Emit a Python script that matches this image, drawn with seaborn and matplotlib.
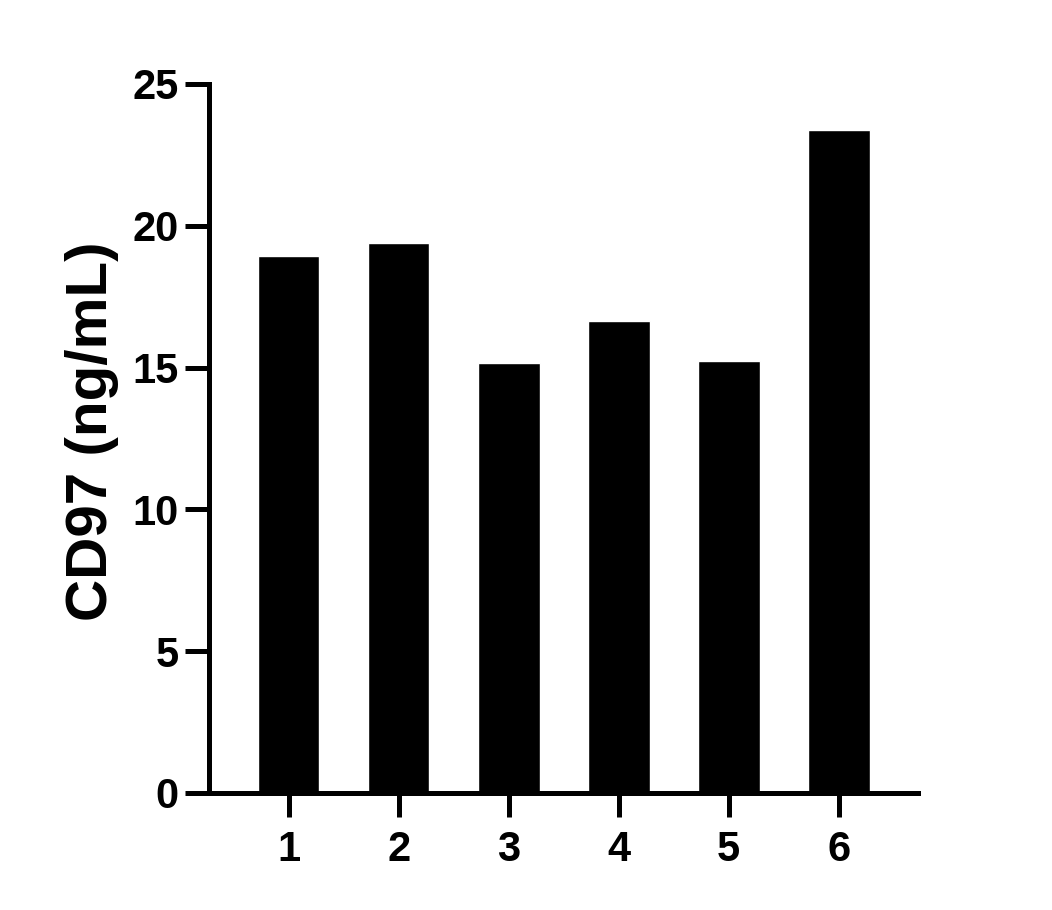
import matplotlib
matplotlib.use("Agg")
import matplotlib.pyplot as plt
import seaborn as sns
import pandas as pd

# data
samples = ["1", "2", "3", "4", "5", "6"]
cd97 = [18.93, 19.39, 15.16, 16.64, 15.23, 23.38]

df = pd.DataFrame({"Sample": samples, "CD97": cd97})

sns.set_style("ticks")
plt.rcParams['font.family'] = ['Liberation Sans', 'DejaVu Sans']
plt.rcParams['font.weight'] = 'bold'
plt.rcParams['text.color'] = 'black'
plt.rcParams['axes.labelcolor'] = 'black'
plt.rcParams['xtick.color'] = 'black'
plt.rcParams['ytick.color'] = 'black'

fig = plt.figure(figsize=(10.52, 9.10), dpi=100)
ax = fig.add_axes([0.1991, 0.1286, 0.6735, 0.7791])

sns.barplot(data=df, x="Sample", y="CD97", color="black", width=0.56,
            saturation=1, ax=ax)

ax.set_xlim(-0.72, 5.72)
ax.set_ylim(0, 25)
ax.set_yticks([0, 5, 10, 15, 20, 25])
ax.set_xlabel("")
ax.set_ylabel("CD97 (ng/mL)", fontsize=42, fontweight="bold")
ax.yaxis.set_label_coords(-0.128, 0.51)

for s in ["top", "right"]:
    ax.spines[s].set_visible(False)
for s in ["left", "bottom"]:
    ax.spines[s].set_linewidth(3.6)
    ax.spines[s].set_color("black")
    ax.spines[s].set_capstyle("projecting")

ax.tick_params(axis="both", width=3.6, length=17, labelsize=30)
ax.tick_params(axis="y", pad=5)
ax.tick_params(axis="x", pad=10)
for lab in ax.get_xticklabels() + ax.get_yticklabels():
    lab.set_fontweight("bold")
    lab.set_color("black")

fig.savefig("out.png", dpi=100)
